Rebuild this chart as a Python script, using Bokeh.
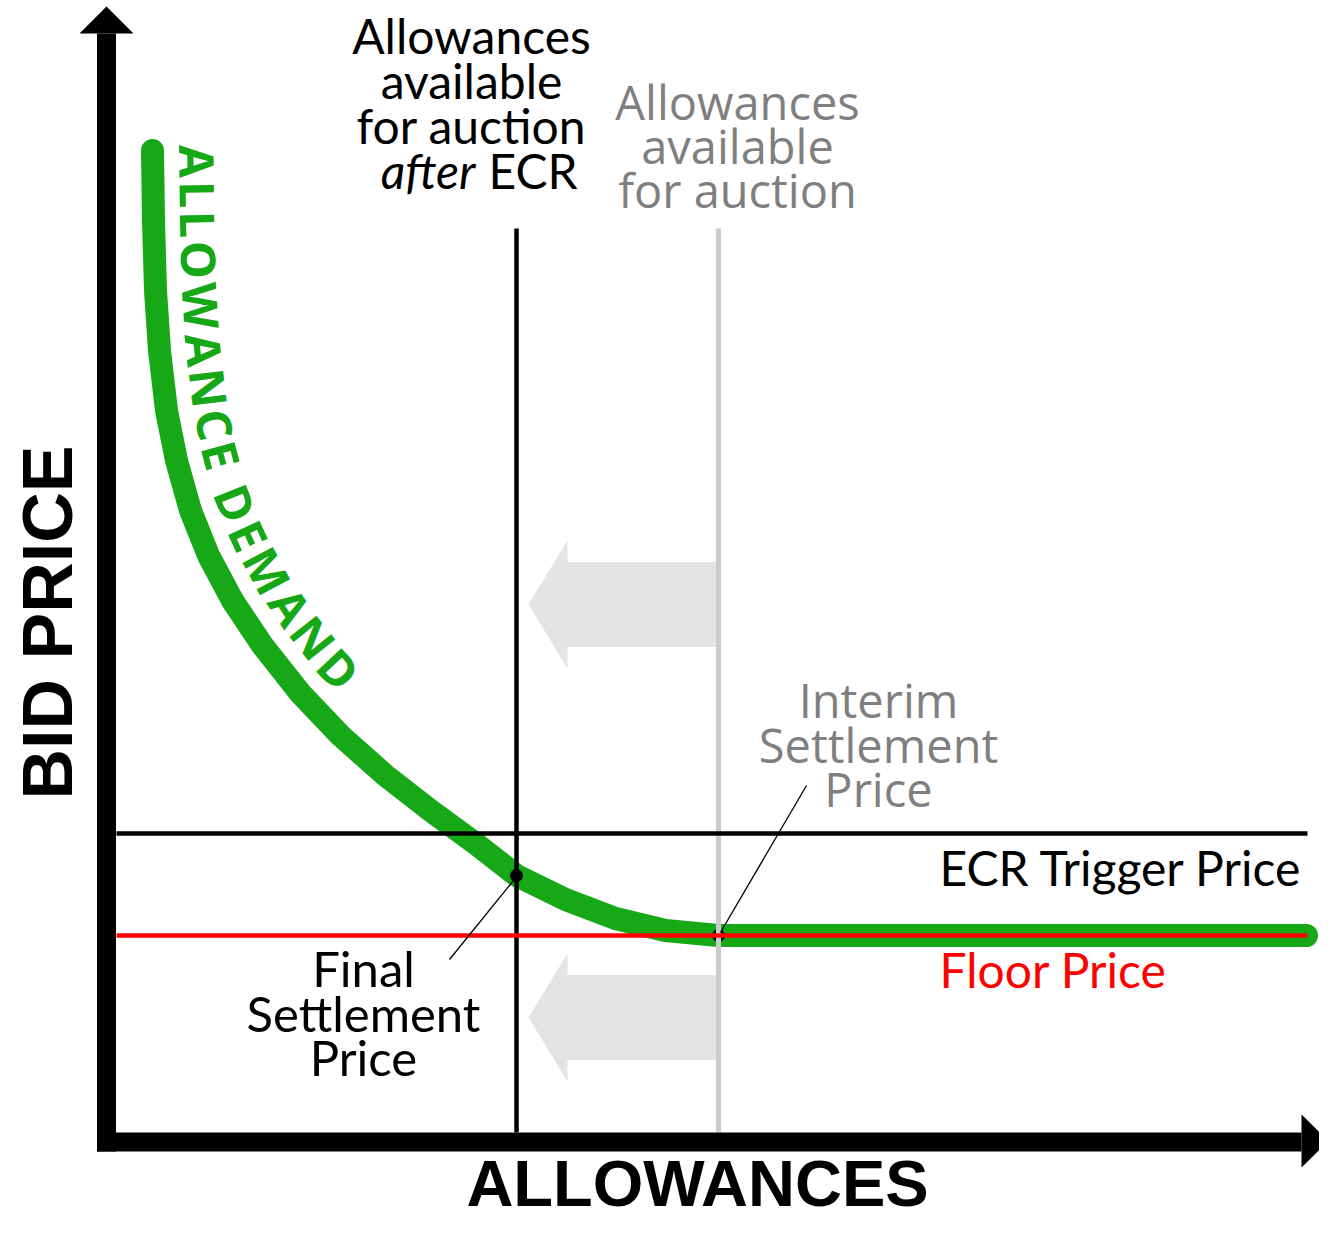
import numpy as np
from bokeh.plotting import figure
from bokeh.models import Range1d
from bokeh.embed import file_html
from bokeh.resources import INLINE
from bokeh.core.properties import value

# ---------------- data (conceptual units: allowances on x, bid price on y) ----------------
demand_q = [46, 47, 49, 53, 60, 70, 84, 102, 126, 156, 194, 234, 279, 324, 369, 410, 459, 509, 559, 612, 1200]
demand_p = [991, 921, 851, 791, 731, 681, 631, 586, 541, 496, 448, 406, 366, 331, 298, 266, 242, 223, 211, 206, 206]
ecr_trigger_price = 308
floor_price = 206
supply_after_ecr = 410
supply_before_ecr = 612
final_settlement_q, final_settlement_p = 410, 266
interim_settlement_q, interim_settlement_p = 612, 206
price_line_end = 1201
supply_line_top = 913
demand_label = "ALLOWANCE DEMAND"

# ---------------- colours / fonts ----------------
GREEN = "#16a816"
GREY_TXT = "#7f7f7f"
GREY_LINE = "#cbcbcb"
ARROW_FILL = "#e4e4e4"
CAL = value("Lato")
SEG = value("Open Sans")
AXF = value("Liberation Sans")

p = figure(width=1319, height=1220, x_range=Range1d(-106, 1213), y_range=Range1d(-79, 1141),
           output_backend="svg", toolbar_location=None, min_border=0,
           x_axis_type=None, y_axis_type=None, outline_line_color=None)
p.grid.visible = False
p.background_fill_color = "white"

# ---------------- big grey "shift" arrows ----------------
def left_arrow(x_tail, x_tip, yc, body_h=42.5, head_h=64, head_len=39):
    xs = [x_tail, x_tip + head_len, x_tip + head_len, x_tip, x_tip + head_len, x_tip + head_len, x_tail]
    ys = [yc + body_h, yc + body_h, yc + head_h, yc, yc - head_h, yc - body_h, yc - body_h]
    return xs, ys

arrow_centres = [537, 124]
axs, ays = [], []
for yc in arrow_centres:
    a, b = left_arrow(supply_before_ecr, supply_after_ecr + 12, yc)
    axs.append(a); ays.append(b)
p.patches(axs, ays, fill_color=ARROW_FILL, line_color=None)

# ---------------- demand curve ----------------
p.line(demand_q, demand_p, line_color=GREEN, line_width=23, line_cap="round", line_join="round")

# settlement points
p.scatter([final_settlement_q, interim_settlement_q], [final_settlement_p, interim_settlement_p],
          size=13, fill_color="black", line_color=None)

# supply lines
p.segment(x0=[supply_before_ecr], y0=[9], x1=[supply_before_ecr], y1=[supply_line_top],
          line_color=GREY_LINE, line_width=5)
p.segment(x0=[supply_after_ecr], y0=[9], x1=[supply_after_ecr], y1=[supply_line_top],
          line_color="black", line_width=4.5)
# price lines
p.segment(x0=[10], y0=[ecr_trigger_price], x1=[price_line_end], y1=[ecr_trigger_price],
          line_color="black", line_width=4.5)
p.segment(x0=[10], y0=[floor_price], x1=[price_line_end], y1=[floor_price],
          line_color="#ff0000", line_width=4.5)

# leader lines
p.segment(x0=[final_settlement_q - 3, interim_settlement_q + 2],
          y0=[final_settlement_p - 5, interim_settlement_p + 3],
          x1=[final_settlement_q - 67, interim_settlement_q + 88],
          y1=[final_settlement_p - 84, interim_settlement_p + 150],
          line_color="black", line_width=1.3)

# ---------------- axes (thick arrows) ----------------
p.patches(
    [[-9.5, 9.5, 9.5, -9.5], [-27, 27, 0], [-9.5, 1195, 1195, -9.5], [1195, 1195, 1222]],
    [[-10, -10, 1108, 1108], [1108, 1108, 1135], [-10, -10, 9, 9], [27, -26, 0.5]],
    fill_color="black", line_color=None)

# ---------------- labels ----------------
MID = "middle"
p.text(x=[365, 365, 365], y=[1106, 1061, 1016], text=["Allowances", "available", "for auction"],
       text_font=CAL, text_font_size="48px", text_color="black", text_align="center",
       text_baseline=MID)
p.text(x=[369], y=[971], text=["after"], text_font=CAL, text_font_style="italic",
       text_font_size="48px", text_color="black", text_align="right", text_baseline=MID)
p.text(x=[382], y=[971], text=["ECR"], text_font=CAL, text_font_size="48px", text_color="black",
       text_align="left", text_baseline=MID)

p.text(x=[631, 631, 631], y=[1040, 996, 952], text=["Allowances", "available", "for auction"],
       text_font=SEG, text_font_size="47px", text_color=GREY_TXT, text_align="center",
       text_baseline=MID)
p.text(x=[772, 772, 772], y=[442, 397, 353], text=["Interim", "Settlement", "Price"],
       text_font=SEG, text_font_size="47px", text_color=GREY_TXT, text_align="center",
       text_baseline=MID)
p.text(x=[257, 257, 257], y=[174, 129, 85], text=["Final", "Settlement", "Price"],
       text_font=CAL, text_font_size="49px", text_color="black", text_align="center",
       text_baseline=MID)
p.text(x=[833], y=[274], text=["ECR Trigger Price"], text_font=CAL, text_font_size="48px",
       text_color="black", text_align="left", text_baseline=MID)
p.text(x=[833], y=[172], text=["Floor Price"], text_font=CAL, text_font_size="48px",
       text_color="#ff0000", text_align="left", text_baseline=MID)

p.text(x=[-58.3], y=[519], text=["BID PRICE"], angle=[np.pi / 2], text_font=AXF, text_font_style="bold",
       text_font_size="70px", text_color="black", text_align="center", text_baseline=MID)
p.text(x=[591], y=[-41.7], text=["ALLOWANCES"], text_font=AXF, text_font_style="bold",
       text_font_size="65px", text_color="black", text_align="center", text_baseline=MID)

# ---------------- curved demand label ----------------
P = np.column_stack([demand_q, demand_p]).astype(float)
T = np.zeros_like(P)
T[1:-1] = P[2:] - P[:-2]
T[0] = P[1] - P[0]
T[-1] = P[-1] - P[-2]
T /= np.linalg.norm(T, axis=1)[:, None]
N = np.column_stack([-T[:, 1], T[:, 0]])
OFF = P + 45 * N
seg = np.linalg.norm(np.diff(OFF, axis=0), axis=1)
L = np.concatenate([[0], np.cumsum(seg)])

def at(s):
    if s < 0:
        d = (OFF[1] - OFF[0]) / seg[0]
        return OFF[0] + d * s
    return np.array([np.interp(s, L, OFF[:, 0]), np.interp(s, L, OFF[:, 1])])

adv = {"A": 0.69, "L": 0.56, "O": 0.79, "W": 1.01, "N": 0.79, "C": 0.63, "E": 0.55,
       " ": 0.26, "D": 0.77, "M": 0.97}
fs = 48
w = np.array([adv[c] * fs for c in demand_label])
s0, s1 = -5.0, L[10] + 25
gap = (s1 - s0 - w.sum()) / (len(w) - 1)
cx, cy, ang = [], [], []
for i, c in enumerate(demand_label):
    s = s0 + w[:i].sum() + i * gap + w[i] / 2
    pt = at(s)
    a, b = at(s - 8), at(s + 8)
    cx.append(pt[0]); cy.append(pt[1])
    ang.append(np.arctan2(b[1] - a[1], b[0] - a[0]))
p.text(x=cx, y=cy, text=list(demand_label), angle=ang, text_font=SEG, text_font_style="bold",
       text_font_size=f"{fs}px", text_color=GREEN, text_align="center", text_baseline=MID)

open("out.html", "w").write(file_html(p, INLINE))
